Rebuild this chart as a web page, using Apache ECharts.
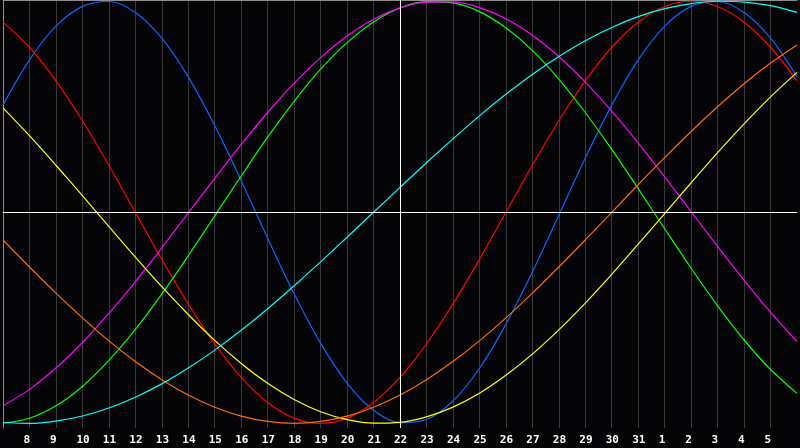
<!DOCTYPE html>
<html>
<head>
<meta charset="utf-8">
<script src="https://cdn.jsdelivr.net/npm/echarts@6/dist/echarts.min.js"></script>
<style>
html,body{margin:0;padding:0;background:#050508;}
#c{width:800px;height:448px;}
</style>
</head>
<body>
<div id="c"></div>
<script>
// Day labels along the x axis (first and last are the chart edges, unlabeled)
const days = ['7','8','9','10','11','12','13','14','15','16','17','18','19','20','21','22','23','24','25','26','27','28','29','30','31','1','2','3','4','5','6'];
const today = '22';

// Biorhythm cycle values, one per day
const physical = [0.508,0.722,0.882,0.976,0.999,0.947,0.825,0.642,0.411,0.150,-0.123,-0.386,-0.620,-0.809,-0.938,-0.997,-0.982,-0.894,-0.740,-0.531,-0.283,-0.014,0.257,0.508,0.722,0.882,0.976,0.999,0.947,0.825,0.642];
const emotional = [0.901,0.782,0.623,0.434,0.223,0,-0.223,-0.434,-0.623,-0.782,-0.901,-0.975,-1,-0.975,-0.901,-0.782,-0.623,-0.434,-0.223,0,0.223,0.434,0.623,0.782,0.901,0.975,1,0.975,0.901,0.782,0.623];
const intellectual = [-0.999,-0.976,-0.917,-0.825,-0.702,-0.555,-0.388,-0.206,-0.017,0.172,0.356,0.526,0.678,0.804,0.902,0.968,0.998,0.992,0.951,0.874,0.767,0.631,0.473,0.298,0.112,-0.078,-0.265,-0.443,-0.605,-0.745,-0.858];
const intuitive = [-0.917,-0.839,-0.738,-0.617,-0.479,-0.328,-0.168,-0.003,0.161,0.322,0.473,0.612,0.733,0.835,0.915,0.969,0.996,0.997,0.970,0.917,0.839,0.738,0.617,0.479,0.328,0.168,0.003,-0.161,-0.322,-0.473,-0.612];
const aesthetic = [0.495,0.363,0.223,0.079,-0.067,-0.212,-0.352,-0.484,-0.607,-0.716,-0.810,-0.887,-0.945,-0.982,-0.999,-0.995,-0.969,-0.923,-0.857,-0.772,-0.672,-0.557,-0.430,-0.294,-0.151,-0.006,0.140,0.283,0.419,0.547,0.663];
const awareness = [-0.131,-0.259,-0.383,-0.5,-0.609,-0.707,-0.793,-0.866,-0.924,-0.966,-0.991,-1,-0.991,-0.966,-0.924,-0.866,-0.793,-0.707,-0.609,-0.5,-0.383,-0.259,-0.131,0,0.131,0.259,0.383,0.5,0.609,0.707,0.793];
const spiritual = [-0.996,-1.0,-0.989,-0.965,-0.927,-0.876,-0.813,-0.738,-0.653,-0.559,-0.457,-0.348,-0.235,-0.118,0,0.118,0.235,0.348,0.457,0.559,0.653,0.738,0.813,0.876,0.927,0.965,0.989,1.0,0.996,0.979,0.947];

const cycles = [
  {name:'Physical', data:physical, color:'#0a64ff'},
  {name:'Emotional', data:emotional, color:'#ff0000'},
  {name:'Intellectual', data:intellectual, color:'#00ff00'},
  {name:'Intuitive', data:intuitive, color:'#ff00ff'},
  {name:'Aesthetic', data:aesthetic, color:'#ffff00'},
  {name:'Awareness', data:awareness, color:'#ff6a00'},
  {name:'Spiritual', data:spiritual, color:'#00ffff'}
];

const chart = echarts.init(document.getElementById('c'), null, {renderer:'canvas'});
const lastIdx = days.length - 1;

const series = [{
  type:'line', data:[], silent:true, z:1,
  markLine:{
    silent:true, symbol:'none', animation:false,
    label:{show:false},
    lineStyle:{color:'#ffffff', width:1, type:'solid'},
    data:[{yAxis:0},{xAxis:today}]
  }
}].concat(cycles.map(c => ({
  name:c.name, type:'line', data:c.data, smooth:0.33, showSymbol:false, z:3,
  lineStyle:{color:c.color, width:1.2}, itemStyle:{color:c.color}
})));

chart.setOption({
  backgroundColor:'#050508',
  animation:false,
  grid:{left:0, right:0, top:0, bottom:20},
  xAxis:[{
    type:'category', data:days, boundaryGap:false,
    axisLine:{show:true, lineStyle:{color:'#8c8c8c', width:1}},
    axisTick:{show:false},
    splitLine:{show:true, interval:(i) => i > 0 && i < lastIdx, lineStyle:{color:'#3a3a3a', width:1}},
    axisLabel:{
      show:true, interval:0, margin:7, align:'left', padding:[0,0,0,-6],
      color:'#ffffff', fontFamily:'DejaVu Sans Mono', fontWeight:'bold', fontSize:11,
      formatter:(v, i) => (i === 0 || i === lastIdx) ? '' : v
    }
  },{
    type:'category', data:days, boundaryGap:false, position:'top',
    axisLine:{show:true, lineStyle:{color:'#8c8c8c', width:1}},
    axisTick:{show:false}, axisLabel:{show:false}, splitLine:{show:false}
  }],
  yAxis:{
    type:'value', min:-1.022, max:1.006,
    axisLine:{show:true, lineStyle:{color:'#8c8c8c', width:1}},
    axisTick:{show:false}, axisLabel:{show:false}, splitLine:{show:false}
  },
  series:series
});
</script>
</body>
</html>
